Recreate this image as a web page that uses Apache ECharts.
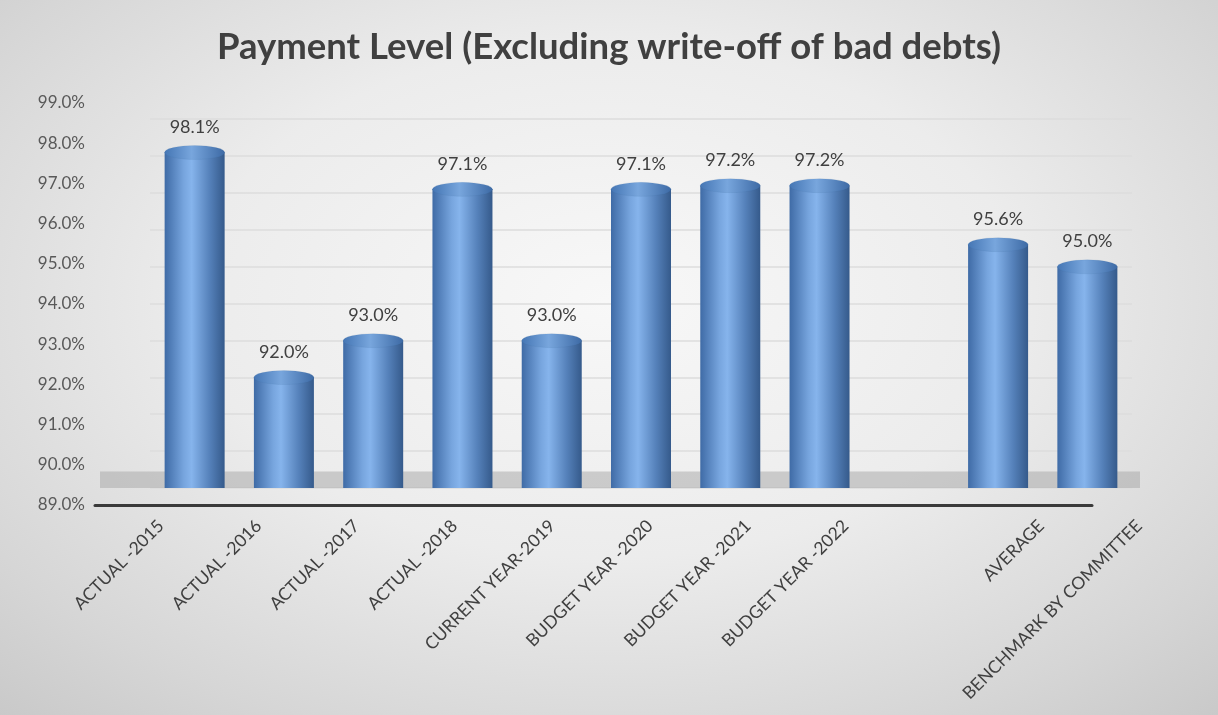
<!DOCTYPE html>
<html>
<head>
<meta charset="utf-8">
<script src="https://cdn.jsdelivr.net/npm/echarts@6/dist/echarts.min.js"></script>
<style>
  html, body { margin: 0; padding: 0; }
  #chart {
    width: 1218px; height: 715px;
    background: radial-gradient(ellipse 75% 80% at 50% 42%, #f8f8f8 0%, #ececec 45%, #d6d6d6 80%, #c8c8c8 100%);
  }
</style>
</head>
<body>
<div id="chart"></div>
<script>
// ---- data ----
const categories = [
  'ACTUAL -2015', 'ACTUAL -2016', 'ACTUAL -2017', 'ACTUAL -2018',
  'CURRENT YEAR-2019', 'BUDGET YEAR -2020', 'BUDGET YEAR -2021', 'BUDGET YEAR -2022',
  '', 'AVERAGE', 'BENCHMARK BY COMMITTEE'
];
const values = [98.1, 92.0, 93.0, 97.1, 93.0, 97.1, 97.2, 97.2, null, 95.6, 95.0];
const yTicks = { min: 89, max: 99, step: 1 };
const titleText = 'Payment Level (Excluding write-off of bad debts)';

// ---- chart ----
const seriesData = values.map(v => (v === null ? '-' : v));
const textColor = '#404040';

function barGradient() {
  return new echarts.graphic.LinearGradient(0, 0, 1, 0, [
    { offset: 0, color: '#3f6ba6' },
    { offset: 0.32, color: '#77a5de' },
    { offset: 0.45, color: '#86b4ec' },
    { offset: 0.75, color: '#5581ba' },
    { offset: 1, color: '#355a8b' }
  ]);
}

const chart = echarts.init(document.getElementById('chart'), null, { renderer: 'canvas' });
chart.setOption({
  backgroundColor: 'transparent',
  animation: false,
  title: {
    text: titleText,
    left: 'center',
    top: 24,
    textStyle: { fontFamily: 'Lato', fontWeight: 'bold', fontSize: 36.5, color: '#404040' }
  },
  grid: [
    // bars
    { left: 150, right: 86, top: 119, bottom: 227 },
    // value-axis labels and base line
    { left: 95, right: 126, top: 103, bottom: 210 },
    // category labels
    { left: 112, right: 30, top: 103, bottom: 210 }
  ],
  xAxis: [
    {
      gridIndex: 0, type: 'category', data: categories,
      axisLine: { show: false }, axisTick: { show: false }, axisLabel: { show: false }
    },
    {
      gridIndex: 1, type: 'category', data: categories,
      axisLine: { show: true, lineStyle: { color: '#3a3a3a', width: 3 } },
      axisTick: { show: false }, axisLabel: { show: false }
    },
    {
      gridIndex: 2, type: 'category', data: categories,
      axisLine: { show: false }, axisTick: { show: false },
      axisLabel: {
        show: true, interval: 0, rotate: 45, margin: 18,
        fontFamily: 'Lato', fontSize: 17.5, color: textColor
      }
    }
  ],
  yAxis: [
    {
      gridIndex: 0, type: 'value', min: yTicks.min, max: yTicks.max, interval: yTicks.step,
      axisLabel: { show: false }, axisLine: { show: false }, axisTick: { show: false },
      splitLine: { show: true, lineStyle: { color: '#dcdcdc', width: 1.5 } }
    },
    {
      gridIndex: 1, type: 'value', min: yTicks.min, max: yTicks.max, interval: yTicks.step,
      axisLine: { show: false }, axisTick: { show: false }, splitLine: { show: false },
      axisLabel: {
        show: true, margin: 10, fontFamily: 'Lato', fontSize: 17, color: '#595959',
        formatter: v => v.toFixed(1) + '%'
      }
    },
    {
      gridIndex: 2, type: 'value', min: yTicks.min, max: yTicks.max, interval: yTicks.step,
      show: false
    }
  ],
  series: [
    {
      type: 'bar',
      xAxisIndex: 0, yAxisIndex: 0,
      data: seriesData,
      barWidth: 60,
      z: 3,
      itemStyle: { color: barGradient() },
      label: {
        show: true, position: 'top', distance: 16,
        fontFamily: 'Lato', fontSize: 18, color: textColor,
        formatter: p => Number(p.value).toFixed(1) + '%'
      },
      markArea: {
        silent: true,
        itemStyle: { color: 'rgba(165,165,165,0.5)' },
        data: [[{ yAxis: 89, x: 100 }, { yAxis: 89.45, x: 1140 }]]
      }
    },
    {
      // cylinder top
      type: 'pictorialBar',
      xAxisIndex: 0, yAxisIndex: 0,
      data: seriesData,
      symbol: 'circle',
      symbolSize: [60, 14],
      symbolPosition: 'end',
      symbolOffset: [0, '-50%'],
      z: 4,
      itemStyle: {
        color: new echarts.graphic.LinearGradient(0, 0, 1, 0, [
          { offset: 0, color: '#4576b4' },
          { offset: 0.45, color: '#78a6dd' },
          { offset: 1, color: '#3d6aa5' }
        ]),
        borderColor: '#34598a', borderWidth: 1
      }
    },
    {
      // cylinder bottom
      type: 'pictorialBar',
      xAxisIndex: 0, yAxisIndex: 0,
      data: seriesData,
      symbol: 'circle',
      symbolSize: [60, 14],
      symbolPosition: 'start',
      symbolOffset: [0, '50%'],
      z: 2,
      itemStyle: { color: barGradient() }
    }
  ]
});
</script>
</body>
</html>
